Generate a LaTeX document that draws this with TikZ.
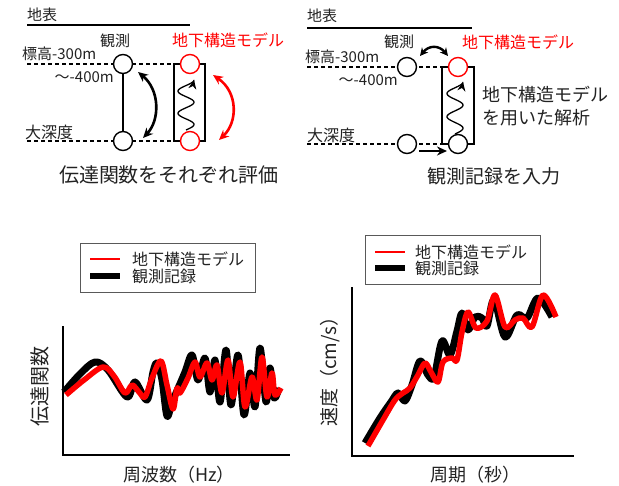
\documentclass[tikz,border=0pt]{standalone}
\usepackage{fontspec}
\setmainfont{Noto Sans CJK JP}
\usetikzlibrary{arrows.meta}
\definecolor{txt}{HTML}{222222}
\definecolor{redc}{HTML}{FF0000}
\begin{document}
\begin{tikzpicture}[x=1pt,y=-1pt,
  fs/.style={font=\fontsize{#1pt}{#1pt}\selectfont},
  lbl/.style={text=txt, inner sep=0pt},
  circ/.style={circle, draw, line width=1.4pt, minimum size=19pt, inner sep=0pt, fill=white},
  rcirc/.style={circ, draw=redc},
  dash line/.style={line width=1.5pt, dash pattern=on 4pt off 3pt},
  ground/.style={line width=1.6pt},
  arc/.style={line width=2.6pt, {Stealth[length=10pt,width=9pt]}-{Stealth[length=10pt,width=9pt]}},
  wave/.style={line width=1.3pt, -{Stealth[length=9pt,width=8pt]}},
  axis/.style={line width=2.6pt},
  obs/.style={line width=7pt, black, line join=round},
  mdl/.style={line width=5.5pt, redc, line join=round},
  legbox/.style={draw=black!65, line width=0.9pt},
]
\useasboundingbox (0,0) rectangle (619,486);

% ================= top left panel =================
\node[lbl, fs=15, anchor=west] (gl1) at (27,15) {地表};
\coordinate (g1a) at (27,25); \coordinate (g1b) at (190,25);
\draw[ground] (g1a) -- (g1b);
\node[lbl, fs=15] (obsL) at (115,41) {観測};
\node[lbl, fs=16, text=redc] (mdlL) at (228,40) {地下構造モデル};
\node[lbl, fs=15, anchor=west] (elL) at (22,54) {標高-300m};
\node[lbl, fs=15, anchor=east] (el2L) at (114,77) {～-400m};
\node[lbl, fs=16, anchor=west] (deepL) at (25,132) {大深度};

\coordinate (dt1) at (27,64); \coordinate (db1) at (27,141);
\coordinate (rt1) at (174,64); \coordinate (rb1) at (174,141);
\coordinate (rr1) at (205,141);
\draw[dash line] (dt1) -- (rt1);
\draw[dash line] (db1) -- (rb1);
\draw[line width=1.6pt] (rt1) rectangle (rr1);
\node[circ] (a1) at (123,64) {};
\node[circ] (a2) at (123,141) {};
\draw[line width=1.3pt] (a1) -- (a2);
\node[rcirc] (m1) at (190,64) {};
\node[rcirc] (m2) at (190,141) {};
\draw[wave] plot[domain=0:1, samples=60, smooth] ({186+8*sin(810*\x)},{130-50*\x});
\coordinate (ka) at (138,72); \coordinate (kb) at (143,138);
\draw[arc] (ka) .. controls (160,90) and (160,120) .. (kb);
\coordinate (ra) at (213,75); \coordinate (rb) at (219,140);
\draw[arc, redc] (ra) .. controls (238,92) and (238,122) .. (rb);
\node[lbl, fs=20] (capL) at (169,175) {伝達関数をそれぞれ評価};

% ================= top right panel =================
\node[lbl, fs=15, anchor=west] (gl2) at (307,16) {地表};
\coordinate (g2a) at (307,28); \coordinate (g2b) at (472,28);
\draw[ground] (g2a) -- (g2b);
\node[lbl, fs=15] (obsR) at (399,42) {観測};
\node[lbl, fs=16, text=redc] (mdlR) at (518,42) {地下構造モデル};
\node[lbl, fs=15, anchor=west] (elR) at (305,57) {標高-300m};
\node[lbl, fs=15, anchor=east] (el2R) at (398,80) {～-400m};
\node[lbl, fs=16, anchor=west] (deepR) at (307,135) {大深度};

\coordinate (dt2) at (307,67); \coordinate (db2) at (307,144);
\coordinate (rt2) at (442,67); \coordinate (rb2) at (442,144);
\coordinate (rr2) at (474,144);
\draw[dash line] (dt2) -- (rt2);
\draw[dash line] (db2) -- (rb2);
\draw[line width=1.6pt] (rt2) rectangle (rr2);
\node[circ] (b1) at (407,67) {};
\node[circ] (b2) at (407,144) {};
\node[rcirc] (n1) at (458,67) {};
\node[circ] (n2) at (458,144) {};
\draw[wave] plot[domain=0:1, samples=60, smooth] ({455+8*sin(810*\x)},{134-52*\x});
\coordinate (ta) at (420,56); \coordinate (tb) at (448,56);
\draw[arc, line width=2.4pt, {Stealth[length=8pt,width=8pt]}-{Stealth[length=8pt,width=8pt]}] (ta) .. controls (429,45) and (439,45) .. (tb);
\coordinate (ia) at (419,151); \coordinate (ib) at (447,151);
\draw[line width=2.4pt, -{Stealth[length=10pt,width=9pt]}] (ia) -- (ib);
\node[lbl, fs=18, anchor=west] (anaR1) at (482,95) {地下構造モデル};
\node[lbl, fs=18, anchor=west] (anaR2) at (482,118) {を用いた解析};
\node[lbl, fs=19] (capR) at (494,176) {観測記録を入力};

% ================= bottom left plot =================
\draw[legbox] (80,243) rectangle (255,292);
\coordinate (l1a) at (90,259); \coordinate (l1b) at (120,259);
\draw[redc, line width=2pt] (l1a) -- (l1b);
\coordinate (l2a) at (90,276); \coordinate (l2b) at (120,276);
\draw[black, line width=6pt] (l2a) -- (l2b);
\node[lbl, fs=16, anchor=west] (leg1a) at (132,259) {地下構造モデル};
\node[lbl, fs=16, anchor=west] (leg1b) at (132,276) {観測記録};

\coordinate (o1) at (63,455); \coordinate (y1) at (63,327); \coordinate (x1) at (289,455);
\draw[axis, line cap=rect] (y1) -- (o1) -- (x1);
\node[lbl, fs=20, rotate=90] (ylab1) at (40,387) {伝達関数};
\node[lbl, fs=18] (xlab1) at (179,475) {周波数（Hz）};

\draw[obs] plot[smooth, tension=0.55] coordinates {(64,392) (80,374) (95,362) (108,370) (127,397) (135,382) (147,400) (153,372) (157,363) (162,380) (167,416) (172,402) (176,393) (185,372) (192,355) (198,380) (205,358) (210,392) (215,360) (220,402) (226,350) (231,405) (238,355) (244,415) (250,373) (255,407) (260,348) (266,402) (270,368) (274,398) (279,388)};
\draw[mdl] plot[smooth, tension=0.55] coordinates {(66,395) (84,380) (103,367) (114,376) (125,393) (132,385) (139,392) (145,397) (152,378) (161,361) (167,385) (173,409) (177,388) (180,393) (188,378) (195,362) (200,377) (207,363) (212,380) (217,365) (222,393) (228,360) (233,397) (240,362) (245,407) (252,377) (257,400) (262,357) (267,397) (272,373) (275,395) (281,388)};

% ================= bottom right plot =================
\draw[legbox] (365,235) rectangle (540,284);
\coordinate (l3a) at (375,252); \coordinate (l3b) at (405,252);
\draw[redc, line width=2pt] (l3a) -- (l3b);
\coordinate (l4a) at (375,268); \coordinate (l4b) at (405,268);
\draw[black, line width=6pt] (l4a) -- (l4b);
\node[lbl, fs=16, anchor=west] (leg2a) at (415,252) {地下構造モデル};
\node[lbl, fs=16, anchor=west] (leg2b) at (415,268) {観測記録};

\coordinate (o2) at (352,456); \coordinate (y2) at (352,288); \coordinate (x2) at (573,456);
\draw[axis, line cap=rect] (y2) -- (o2) -- (x2);
\node[lbl, fs=19, rotate=90] (ylab2) at (330,367) {速度（cm/s）};
\node[lbl, fs=18] (xlab2) at (475,475) {周期（秒）};

\draw[obs] plot[smooth, tension=0.55] coordinates {(365,443) (380,418) (391,402) (398,393) (405,401) (412,385) (420,361) (428,375) (434,377) (442,341) (450,355) (457,331) (462,313) (468,330) (475,317) (482,318) (487,326) (494,300) (505,337) (517,315) (527,318) (538,298) (552,317)};
\draw[mdl] plot[smooth, tension=0.55] coordinates {(368,446) (383,420) (395,400) (403,393) (410,388) (418,375) (425,363) (431,372) (438,382) (443,362) (452,358) (457,360) (462,332) (468,312) (476,328) (487,321) (495,295) (505,327) (515,320) (523,318) (532,327) (543,295) (556,317)};
\end{tikzpicture}
\end{document}
